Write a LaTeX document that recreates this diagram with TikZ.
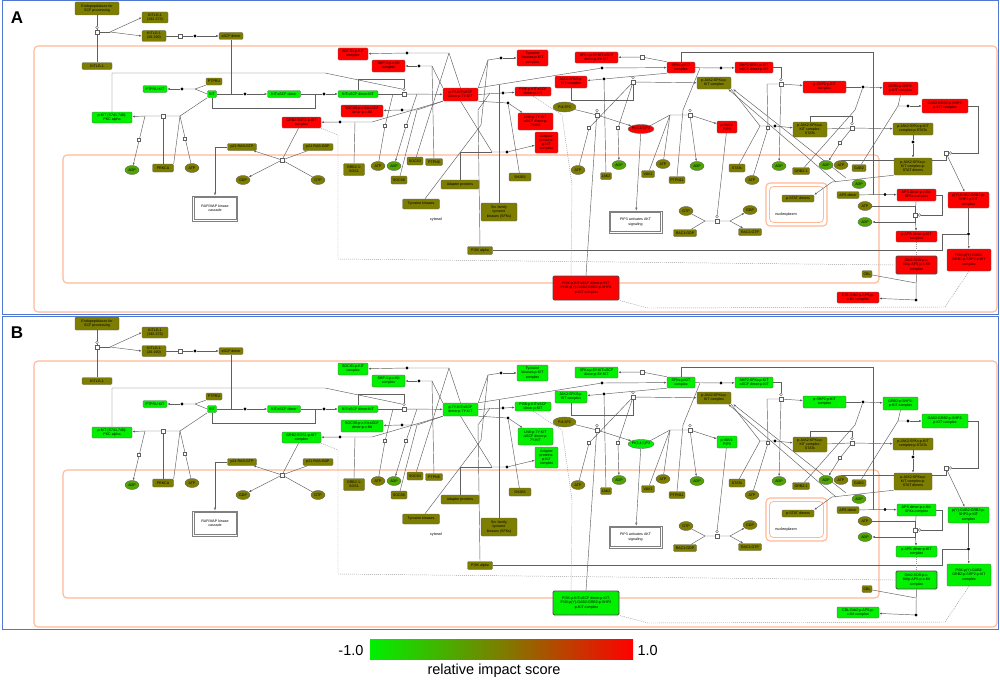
\documentclass[tikz,border=0pt]{standalone}
\usepackage{fontspec}
\setmainfont{Liberation Sans}
\usetikzlibrary{shapes.geometric,arrows.meta}
\pgfdeclarelayer{back}
\pgfdeclarelayer{bg}
\pgfsetlayers{back,bg,main}
\definecolor{actA}{RGB}{255,0,0}
\definecolor{actB}{RGB}{0,240,0}
\definecolor{grn}{RGB}{0,240,0}
\definecolor{olv}{RGB}{125,125,0}
\definecolor{adpc}{RGB}{80,165,0}
\definecolor{compc}{RGB}{255,185,150}
\definecolor{framec}{RGB}{80,120,210}
\definecolor{lnc}{RGB}{95,95,95}
\tikzset{
 box/.style={draw=black!60, rounded corners=1.2pt, inner sep=0.3pt, align=center, font=\fontsize{3.6}{4.1}\selectfont, line width=0.4pt},
 oval/.style={ellipse, draw=black!60, inner sep=0pt, align=center, font=\fontsize{3.6}{4.1}\selectfont, line width=0.4pt},
 dotn/.style={circle, fill=black, inner sep=0pt, minimum size=3.4pt},
 procn/.style={rectangle, draw=lnc, fill=white, inner sep=0pt, minimum size=3.8pt, line width=0.4pt},
 mkn/.style={rectangle, draw=lnc, fill=white, inner sep=0pt, minimum size=2.8pt, line width=0.35pt},
 cirn/.style={circle, draw=lnc, fill=white, inner sep=0pt, minimum size=2.6pt, line width=0.35pt},
 ln/.style={draw=lnc, line width=0.45pt},
 arr/.style={ln, -{Latex[length=2.6pt,width=2pt]}},
 oarr/.style={ln, -{Latex[open,length=3pt,width=2.4pt]}},
 dln/.style={draw=black!40, line width=0.45pt, dash pattern=on 1pt off 1pt},
 compt/.style={draw=compc, line width=1.1pt, rounded corners=4pt},
 dbox/.style={draw=black!50, line width=0.6pt, fill=white, align=center, font=\fontsize{3.6}{4.3}\selectfont, inner sep=0pt},
}
\newcommand\bx[6]{\node[box,fill=#1,minimum width=#4pt,minimum height=#5pt] (\pn#2) at (#3) {#6};}
\newcommand\ov[6]{\node[oval,fill=#1,minimum width=#4pt,minimum height=#5pt] (\pn#2) at (#3) {#6};}
\newcommand\dt[2]{\node[dotn] (\pn#1) at (#2) {};}
\newcommand\pr[2]{\node[procn] (\pn#1) at (#2) {};}
\newcommand\mk[2]{\node[mkn] (\pn#1) at (#2) {};}
\newcommand\ci[2]{\node[cirn] (\pn#1) at (#2) {};}
\newcommand\cp[2]{\coordinate (\pn#1) at (#2);}
\newcommand\inset[1]{\draw[black!50, line width=0.5pt] ([shift={(1.6pt,-1.6pt)}]#1.north west) rectangle ([shift={(-1.6pt,1.6pt)}]#1.south east);}
\begin{document}
\begin{tikzpicture}[x=1pt,y=-1pt]
\useasboundingbox (0,0) rectangle (1000,685);
\begin{pgfonlayer}{back}
\fill[white] (0,0) rectangle (1000,685);
\end{pgfonlayer}
\foreach \pn/\off/\act in {A/0/actA,B/315/actB}{
\begin{scope}[yshift=-\off pt]
\node[font=\bfseries\fontsize{17}{17}\selectfont] (\pn lab) at (17,17.5) {\pn};
% ---------- entities ----------
\bx{olv}{endo}{97,8.5}{44}{13}{Endopeptidases for\\SCF processing}
\bx{olv}{kl1}{155,17.5}{26}{11}{KITLG-1\\(192-273)}
\bx{olv}{kl2}{154,36}{24}{11}{KITLG-1\\(26-190)}
\bx{olv}{sscf}{231,36}{24}{7}{sSCF dimer}
\bx{olv}{kitlg}{97,66}{30}{7}{KITLG-1}
\bx{olv}{ptpru}{214,81.5}{16}{7}{PTPRU}
\bx{grn}{ptprukit}{155,89}{24}{7}{PTPRU:KIT}
\bx{grn}{kit}{212,94}{9}{7}{KIT}
\bx{grn}{pkit}{112,117.5}{40}{11}{p-KIT (S741,746):\\PKC alpha}
\bx{grn}{kitscf}{284,94}{33}{7}{KIT:sSCF dimer}
\bx{grn}{kitscfkit}{358,94}{40}{7}{KIT:sSCF dimer:KIT}
\bx{\act}{p7y}{460.5,94.5}{35}{13}{p-7Y-KIT:sSCF\\dimer:p-7Y-KIT}
\bx{\act}{socs1c}{353,54}{30}{12}{SOCS1:p-KIT\\complex}
\bx{\act}{shp1c}{388.5,66}{33}{12}{SHP-1:p-c-Kit\\complex}
\bx{\act}{socs6c}{362,111}{42}{12}{SOCS6:p-c-Kit:sSCF\\dimer:p-c-Kit}
\bx{\act}{grb2c}{301.5,122.5}{39}{11}{GRB2:SOS1:p-KIT\\complex}
\bx{olv}{p21gtp}{242,147}{29}{7}{p21 RAS:GTP}
\bx{olv}{p21gdp}{318,147}{30}{7}{p21 RAS:GDP}
\bx{\act}{tkc}{532.5,58}{31}{16}{Tyrosine\\kinases:p-KIT\\complex}
\bx{\act}{sfk8y}{596.5,57.5}{43}{11}{SFKs:p-8Y-KIT:sSCF\\dimer:p-8Y-KIT}
\bx{\act}{sfkc}{681,67.5}{28}{11}{SFKs:p-KIT\\complex}
\bx{\act}{shp2sfk}{754,67.5}{38}{11}{SHP2:SFKs:p-KIT\\:sSCF dimer:p-KIT}
\bx{\act}{jak2c}{571,82}{32}{12}{JAK2:SFKS:p-\\KIT complex}
\bx{olv}{pjak2c}{714,83}{34}{12}{p-JAK2:SFKs:p-\\KIT complex}
\bx{\act}{pi3kc}{533,91.5}{36}{9}{PI3K:p-KIT:sSCF\\dimer:p-KIT}
\ov{olv}{pip2}{564.5,107}{23}{10}{PI4,5P2}
\bx{\act}{lnk}{535.5,121.5}{35}{17}{LNK:p-7Y-KIT\\:sSCF dimer:p-\\7Y-KIT}
\bx{\act}{adapc}{546.5,142.5}{23}{21}{Adapter\\proteins:\\p-KIT\\complex}
\ov{\act}{pip3}{641,129}{26}{9}{PI(3,4,5)P3}
\bx{\act}{pvav}{727,127}{20}{12}{p-VAV1:\\PIP3}
\bx{\act}{pshp2}{824.5,87}{43}{12}{p-SHP2:p-KIT\\complex}
\bx{\act}{grb2shp2}{900.5,88.5}{35}{13}{GRB2:p-SHP2:\\p-KIT complex}
\bx{\act}{gab2c}{945,106}{46}{14}{GAB2:GRB2:p-SHP2:\\p-KIT complex}
\bx{olv}{pjakstats}{810,129.5}{34}{15}{p-JAK2:SFKs:p-\\KIT complex:\\STATs}
\bx{olv}{pjakpstats}{913,129}{40}{12}{p-JAK2:SFKs:p-KIT\\complex:p-STATs}
\bx{olv}{pjakdim}{913,166.5}{38}{17}{p-JAK2:SFKs:p-\\KIT complex:p-\\STAT dimers}
\bx{olv}{pstatdim}{798,198.5}{32}{7}{p-STAT dimers}
\bx{olv}{apsdim}{848,195}{22}{7}{APS dimer}
\bx{\act}{apsc}{916.5,195}{39}{12}{APS dimer:p-c-Kit:\\SFKs complex}
\bx{\act}{papsc}{916.5,236.5}{41}{11}{p-APS dimer:p-KIT\\complex}
\node[box,fill=\act,minimum width=41pt,minimum height=18pt,line width=0.9pt,draw=black!70] (\pn grb2sos) at (916.5,265) {Grb2:SOS:p-c-\\Kit/p-APS:p-c-Kit\\complex};
\bx{olv}{cbl}{867,274}{10}{7}{CBL}
\bx{\act}{cblc}{858,297.5}{42}{11}{CBL:Grb2:p-APS:p-\\c-Kit complex}
\bx{\act}{pygab2}{968.5,200}{41}{16}{p(Y)-GAB2:GRB2:p-\\SHP2:p-KIT\\complex}
\bx{\act}{pi3kpy}{969,260}{44}{22}{PI3K:p(Y)-GAB2:\\GRB2:p-SHP2:p-KIT\\complex}
\node[box,fill=\act,minimum width=66pt,minimum height=24pt,line width=0.9pt,draw=black!70] (\pn bigpi3k) at (586,288) {PI3K:p-KIT:sSCF dimer:p-KIT,\\PI3K:p(Y)-GAB2:GRB2:p-SHP2\\:p-KIT complex};
\bx{olv}{sh2b3}{520,177}{22}{8}{SH2B3}
\bx{olv}{jak2}{606,176}{11}{7}{JAK2}
\bx{olv}{vav1}{648,174}{13}{7}{VAV1}
\bx{olv}{ptpn11}{677,180}{16}{7}{PTPN11}
\bx{olv}{stats}{737,168}{16}{8}{STATs}
\bx{olv}{grb21}{801,171}{17}{7}{GRB2-1}
\bx{olv}{gab2}{859,168}{14}{7}{GAB2}
\bx{olv}{sfks}{499,212}{36}{18}{Src family\\tyrosine\\kinases (SFKs)}
\bx{olv}{adap}{460,184.5}{38}{9}{Adapter proteins}
\bx{olv}{tyk}{421,204}{37}{10}{Tyrosine kinases}
\bx{olv}{pi3ka}{480,250.5}{25}{8}{PI3K alpha}
\bx{olv}{grb2sos1}{354,169.5}{21}{12}{GRB2-1:\\SOS1}
\bx{olv}{socs3}{415,161}{16}{8}{SOCS3}
\bx{olv}{ptpn6}{434,162}{17}{7}{PTPN6}
\bx{olv}{socs6}{399,180}{16}{8}{SOCS6}
\bx{olv}{prkca}{163,168}{21}{8}{PRKCA}
\bx{olv}{rac1gdp}{685,233}{23}{7}{RAC1:GDP}
\bx{olv}{rac1gtp}{750,232}{23}{7}{RAC1:GTP}
\ov{adpc}{adp1}{132,170}{14}{9}{ADP}
\ov{olv}{atp1}{192,168}{14}{9}{ATP}
\ov{olv}{gdp1}{243,180}{14}{9}{GDP}
\ov{olv}{gtp1}{318,180}{14}{9}{GTP}
\ov{olv}{atp2}{378,166}{14}{9}{ATP}
\ov{adpc}{adp2}{394,166}{14}{9}{ADP}
\ov{olv}{atp3}{578,170}{14}{9}{ATP}
\ov{adpc}{adp3}{619,165}{14}{9}{ADP}
\ov{olv}{atp4}{663,164}{14}{9}{ATP}
\ov{adpc}{adp4}{697,166}{14}{9}{ADP}
\ov{olv}{atp5}{752,180}{14}{9}{ATP}
\ov{adpc}{adp5}{779,166}{14}{9}{ADP}
\ov{adpc}{adp6}{826,165}{14}{9}{ADP}
\ov{olv}{atp6}{841,165}{14}{9}{ATP}
\ov{adpc}{adp7}{859,184}{14}{9}{ADP}
\ov{olv}{atp7}{865,206}{14}{9}{ATP}
\ov{adpc}{adp8}{865,222}{14}{9}{ADP}
\ov{olv}{gtp2}{686,211}{14}{9}{GTP}
\ov{olv}{gdp2}{750,210}{14}{9}{GDP}
\node[dbox,minimum width=45pt,minimum height=25pt] (\pn raf) at (215,208.5) {RAF/MAP kinase\\cascade};
\inset{\pn raf}
\node[dbox,minimum width=53pt,minimum height=22pt] (\pn akt) at (635.5,222) {PIP3 activates AKT\\signaling};
\inset{\pn akt}
\node[font=\fontsize{3.8}{4}\selectfont] (\pn cyt) at (436,220) {cytosol};
\node[font=\fontsize{3.8}{4}\selectfont] (\pn nuc) at (786,215) {nucleoplasm};
% ---------- reaction glyphs ----------
\pr{pr1}{97,32} \ci{c1}{97,27.5} \cp{f1}{110,32}
\pr{pr2}{180,36} \dt{d1}{195,36}
\cp{j1}{231,94} \dt{d3}{245,94}
\cp{f2}{195,89} \dt{d2}{182,89}
\pr{pr3}{163,116} \cp{f3}{180,116} \cp{f4}{145,116}
\mk{m1}{139,140} \mk{m2}{185,139}
\dt{d4}{324,94}
\pr{pr4}{404,94} \ci{c2}{404,89.5}
\mk{m3}{385,126} \mk{m4}{406,126}
\cp{f5}{449,53} \dt{d5}{407,53}
\cp{f6}{432,66} \dt{d6}{419,66}
\cp{f7}{417,110} \dt{d7}{402,110}
\cp{f8}{372,122} \dt{d8}{340,122}
\cp{f9}{488,60} \dt{d9}{501,58}
\dt{d10}{503,93}
\dt{d11}{508,103}
\cp{f12}{492,152} \dt{d12}{507,152}
\dt{d13}{602,68}
\pr{pr6}{642,57}
\dt{d15}{721,68}
\dt{d14}{604,79}
\pr{pr7}{633,82} \ci{c3}{633,77.5}
\pr{pr8}{597,115} \ci{c4}{597,110.5}
\pr{pr9}{690,115} \ci{c5}{690,110.5} \cp{f9b}{670,115}
\pr{pr10}{781,84} \ci{c6}{781,79.5}
\dt{d16}{863,87}
\dt{d17}{908,106}
\pr{pr12}{946,153} \ci{c7}{950.5,153}
\dt{d18}{775,126} \cp{f18}{760,126}
\pr{pr11}{852,128} \ci{c8}{852,123.5}
\dt{d19}{913,142}
\dt{d20}{885,194.5}
\pr{pr13}{915,215} \ci{c9}{919.5,215}
\dt{d21}{916,300}
\dt{d22}{968.5,234}
\pr{pr5}{282,160}
\pr{pr14}{717,221} \ci{c10}{717,216.5} \cp{f14a}{705,221} \cp{f14b}{730,221}
\mk{m5}{589,128} \mk{m6}{618,128} \mk{m7}{768,128} \mk{m8}{840,143}
\cp{e1}{846,178} \cp{e2}{836,182}
% ---------- background: frame, compartments, connectors ----------
\begin{pgfonlayer}{bg}
\draw[draw=framec, line width=1pt] (2,1) rectangle (998,314);
\draw[compt] (34,46) rectangle (997,312);
\draw[compt] (63,155) rectangle (879,283);
\draw[compt] (766,183) rectangle (827,226);
\draw[compt, line width=0.8pt] (769.5,186.5) rectangle (823.5,222.5);
% top
\draw[ln] (\pn endo) -- (\pn c1) -- (\pn pr1) -- (\pn kitlg);
\draw[ln] (\pn pr1) -- (\pn f1);
\draw[arr] (\pn f1) -- (\pn kl1.west);
\draw[arr] (\pn f1) -- (\pn kl2.west);
\draw[ln] (\pn kl2) -- (\pn pr2) -- (\pn d1);
\draw[arr] (\pn d1) -- (\pn sscf);
\draw[ln] (\pn sscf) -- (\pn j1);
\draw[ln] (\pn kit) -- (\pn d3);
\draw[arr] (\pn d3) -- (\pn kitscf);
\draw[ln] (\pn ptpru.south west) -- (\pn f2) -- (\pn d2);
\draw[ln] (\pn kit.west) -- (\pn f2);
\draw[arr] (\pn d2) -- (\pn ptprukit);
\draw[ln] (\pn kit.south west) -- (\pn f3) -- (\pn pr3) -- (\pn f4);
\draw[arr] (\pn f4) -- (\pn pkit);
\draw[arr] (\pn f4) -- (\pn adp1);
\draw[ln] (\pn f3) -- (\pn atp1);
\draw[ln] (\pn pr3) -- (\pn prkca);
\draw[ln] (\pn f3) -- (\pn prkca.north east);
\draw[ln] (\pn kit.south) -- (212,108) -- (315,108) -- (315,94);
\draw[ln] (\pn kitscf) -- (\pn d4);
\draw[arr] (\pn d4) -- (\pn kitscfkit);
\draw[ln] (\pn kitscfkit) -- (\pn pr4);
\draw[arr] (\pn pr4) -- (\pn p7y);
\draw[ln] (\pn kitscfkit.north) |- (404,79) -- (\pn c2);
\draw[ln] (\pn pkit.north) |- (325,73) -- (\pn c2);
\draw[ln] (\pn atp2) -- (\pn m3) -- (393,94);
\draw[arr] (417,94) -- (\pn m4) -- (\pn adp2);
% p-7Y-KIT products
\draw[ln] (\pn p7y.north) -- (\pn f5) -- (\pn d5);
\draw[arr] (\pn d5) -- (\pn socs1c);
\draw[ln] (\pn socs3) -- (\pn f5);
\draw[ln] (\pn p7y.north west) -- (\pn f6) -- (\pn d6);
\draw[arr] (\pn d6) -- (\pn shp1c);
\draw[ln] (\pn ptpn6) -- (\pn f6);
\draw[ln] (\pn p7y.south west) -- (\pn f7) -- (\pn d7);
\draw[arr] (\pn d7) -- (\pn socs6c);
\draw[ln] (\pn socs6) -- (\pn f7);
\draw[ln] (\pn p7y.south west) -- (\pn f8) -- (\pn d8);
\draw[arr] (\pn d8) -- (\pn grb2c);
\draw[ln] (\pn grb2sos1.north) -- (355,122);
\draw[ln] (\pn p7y.north east) -- (\pn f9) -- (\pn d9);
\draw[arr] (\pn d9) -- (\pn tkc);
\draw[ln] (\pn tyk) -- (481,125) -- (\pn f9);
\draw[ln] (\pn p7y.east) -- (\pn d10);
\draw[arr] (\pn d10) -- (\pn pi3kc);
\draw[ln] (\pn pi3ka.north) -- (478,110) -- (490,93);
\draw[ln] (\pn p7y.south east) -- (\pn d11);
\draw[arr] (\pn d11) -- (\pn lnk);
\draw[ln] (\pn sh2b3) -- (\pn d11);
\draw[ln] (\pn p7y.south) -- (\pn f12) -- (\pn d12);
\draw[ln] (\pn adap.north) |- (\pn f12);
\draw[arr] (\pn d12) -- (\pn adapc);
\draw[ln] (\pn p7y.north east) -- (\pn d13);
\draw[arr] (\pn d13) -- (\pn sfkc);
\draw[ln] (\pn sfks.north) -- (499,85);
% SFKs
\draw[ln] (\pn sfkc.north west) -- (\pn pr6);
\draw[arr] (\pn pr6) -- (\pn sfk8y);
\draw[ln] (\pn sfkc) -- (\pn d15);
\draw[arr] (\pn d15) -- (\pn shp2sfk);
\draw[ln] (\pn ptpn11.north) -- (683,110) -- (700,68);
\draw[ln] (\pn sfkc.south west) -- (\pn d14);
\draw[arr] (\pn d14) -- (\pn jak2c);
\draw[ln] (\pn jak2) -- (\pn d14);
\draw[ln] (\pn jak2c.south) -- ++(0,12) -| (\pn pr7);
\draw[arr] (\pn pr7) -- (\pn pjak2c);
\draw[ln] (\pn atp3) -- (\pn m5) -- (\pn pr7);
\draw[arr] (\pn pr7) -- (\pn m6) -- (\pn adp3);
% PIP3
\draw[ln] (\pn pip2) -- (\pn pr8);
\draw[arr] (\pn pr8) -- (\pn pip3);
\draw[ln] (\pn bigpi3k.north) -- (\pn c4);
\draw[ln] (\pn pip3.north east) -- (\pn f9b) -- (\pn pr9);
\draw[arr] (\pn pr9) -- (\pn pvav);
\draw[ln] (\pn vav1) -- (\pn f9b);
\draw[ln] (\pn atp4) -- (\pn f9b);
\draw[arr] (\pn pr9) -- (\pn adp4);
\draw[oarr] (\pn pip3) -- (\pn akt);
% SHP2 branch
\draw[ln] (\pn shp2sfk.east) -| (\pn c6);
\draw[arr] (\pn pr10) -- (\pn pshp2);
\draw[ln] (\pn atp5) -- (\pn m7) -- (767,84) -- (\pn pr10);
\draw[arr] (\pn pr10) -- (\pn adp5);
\draw[ln] (\pn pshp2) -- (\pn d16);
\draw[arr] (\pn d16) -- (\pn grb2shp2);
\draw[ln] (\pn grb21) -- (855,110) -- (\pn d16);
\draw[ln] (\pn grb2shp2.south) -- (898,106) -- (\pn d17);
\draw[arr] (\pn d17) -- (\pn gab2c);
\draw[ln] (\pn gab2) -- (898,106);
\draw[ln] (\pn gab2c.east) -| (978,153) -- (\pn c7);
\draw[arr] (\pn pr12) -- (\pn pygab2);
\draw[ln] (\pn pr12) |- (\pn atp6.north);
\draw[ln] (\pn pygab2) -- (\pn d22);
\draw[arr] (\pn d22) -- (\pn pi3kpy);
\draw[ln] (\pn pi3ka) -| (942,234) -- (\pn d22);
% JAK/STAT
\draw[ln] (\pn pjak2c.south east) -- (\pn f18) -- (\pn d18);
\draw[arr] (\pn d18) -- (\pn pjakstats);
\draw[ln] (\pn stats) -- (\pn f18);
\draw[ln] (\pn pjakstats) -- (\pn pr11);
\draw[arr] (\pn pr11) -- (\pn pjakpstats);
\draw[ln] (\pn pjakstats.north) |- (852,116) -- (\pn c8);
\draw[arr] (\pn pr11) -- (\pn m8) -- (\pn adp6);
\draw[arr] (\pn e1) -- ([xshift=2pt]\pn pjak2c.south east);
\draw[arr] (\pn e2) -- ([xshift=-3pt]\pn pjak2c.south east);
\draw[ln] (\pn pjakpstats) -- (\pn d19);
\draw[arr] (\pn d19) -- (\pn pjakdim);
\draw[arr] (\pn pjakdim.south west) -- (832,182) -- (\pn pstatdim.north east);
% APS
\draw[ln] (\pn apsdim) -- (\pn d20);
\draw[arr] (\pn d20) -- (\pn apsc);
\draw[ln] (\pn sfkc.north) |- (873,52) -- (873,194.5);
\draw[ln] (\pn apsc) -- (\pn pr13);
\draw[arr] (\pn pr13) -- (\pn papsc);
\draw[ln] (\pn atp7) -| (\pn pr13);
\draw[arr] (\pn pr13) |- (\pn adp8);
\draw[ln] (\pn apsc.east) -| (942,215) -- (\pn c9);
\draw[dln] (\pn papsc) -- (\pn grb2sos);
\draw[ln] (\pn grb2sos) -- (\pn d21);
\draw[arr] (\pn d21) -- (\pn cblc);
\draw[ln] (\pn cbl) -- (916,283);
% dotted set links
\draw[dln] (\pn grb2c.south east) -- (338,135) -- (338,259) -- (\pn grb2sos.west);
\draw[dln] (\pn pi3kc.south) -- (562,115) -- (572,185) -- (571,276);
\draw[dln] (\pn pi3kpy.south) -- (945,307) -- (648,308) -- (\pn bigpi3k.south east);
% RAS
\draw[ln] (\pn p21gdp) -- (\pn pr5);
\draw[ln] (\pn gtp1) -- (\pn pr5);
\draw[arr] (\pn pr5) -- (\pn p21gtp);
\draw[arr] (\pn pr5) -- (\pn gdp1);
\draw[ln] (\pn grb2c) -- (\pn pr5);
\draw[oarr] (\pn p21gtp.west) -| (\pn raf.north);
% RAC
\draw[ln] (\pn gtp2) -- (\pn f14a) -- (\pn pr14) -- (\pn f14b);
\draw[ln] (\pn rac1gdp) -- (\pn f14a);
\draw[arr] (\pn f14b) -- (\pn gdp2);
\draw[arr] (\pn f14b) -- (\pn rac1gtp);
\draw[ln] (\pn pvav) -- (\pn c10);
\end{pgfonlayer}
\end{scope}
}
% legend
\shade[left color=grn, right color=red, middle color=olv] (370,639) rectangle (633,659);
\node[anchor=east, font=\fontsize{14.5}{15}\selectfont] (lmin) at (367,650) {-1.0};
\node[anchor=west, font=\fontsize{14.5}{15}\selectfont] (lmax) at (634,650) {1.0};
\node[font=\fontsize{14.5}{15}\selectfont] (ltit) at (494,671) {relative impact score};
\end{tikzpicture}
\end{document}
